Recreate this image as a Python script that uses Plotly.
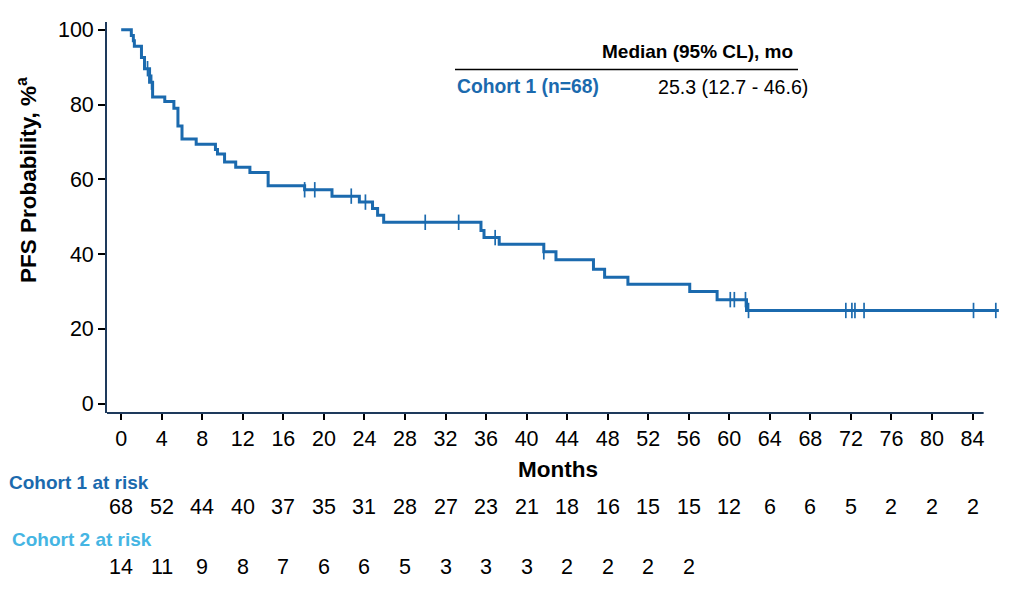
import plotly.graph_objects as go

# ---- data ----
step_months = [0, 1.0, 1.2, 1.3, 2.0, 2.3, 2.8, 3.1, 4.3, 5.2, 5.6, 6.0, 7.4, 9.3, 9.5,
               10.2, 11.3, 12.7, 14.5, 18.1, 20.8, 23.5, 24.8, 25.3, 25.9, 35.5, 35.8,
               37.3, 41.7, 42.9, 46.6, 47.7, 50.0, 56.1, 58.8, 61.7]
step_surv = [100, 98.5, 97.1, 95.6, 92.6, 89.6, 86.0, 82.0, 80.8, 79.0, 74.3, 70.8, 69.4,
             68.0, 66.8, 64.6, 63.2, 61.8, 58.3, 57.2, 55.5, 53.9, 52.2, 50.4, 48.5, 46.3,
             44.4, 42.6, 40.6, 38.5, 35.9, 33.8, 31.9, 30.0, 27.8, 24.9]
last_followup = 86.6

censor_months = [2.6, 3.0, 18.1, 19.1, 22.7, 24.1, 30.0, 33.3, 36.9, 41.7, 60.1, 60.5,
                 61.6, 61.9, 71.5, 72.1, 72.4, 73.3, 84.1, 86.3]

tick_months = list(range(0, 85, 4))
risk_cohort1 = [68, 52, 44, 40, 37, 35, 31, 28, 27, 23, 21, 18, 16, 15, 15, 12, 6, 6, 5, 2, 2, 2]
risk_cohort2 = [14, 11, 9, 8, 7, 6, 6, 5, 3, 3, 3, 2, 2, 2, 2]

median_header = "Median (95% CL), mo"
cohort1_label = "Cohort 1 (n=68)"
cohort1_median = "25.3 (12.7 - 46.6)"

# ---- styling ----
BLUE = "#1b6aae"
LIGHT = "#45b5e3"
NAVY = "#1e3a5c"
FONT = "Liberation Sans, Arial, sans-serif"

W, H = 1024, 590
L, R, T, B = 107, 1010, 22, 413  # plot area in pixels
XR = [-1.4, 87.7]
YR = [-2.54, 102.1]


def surv_at(t):
    s = step_surv[0]
    for m, v in zip(step_months, step_surv):
        if m <= t:
            s = v
    return s


def px(x):
    return (x - L) / (R - L)


def py(y):
    return (B - y) / (B - T)


fig = go.Figure()
fig.add_trace(go.Scatter(
    x=step_months + [last_followup], y=step_surv + [step_surv[-1]],
    mode="lines", line=dict(color=BLUE, width=3, shape="hv"),
    hoverinfo="skip", showlegend=False))
fig.add_trace(go.Scatter(
    x=censor_months, y=[surv_at(t) for t in censor_months],
    mode="markers",
    marker=dict(symbol="line-ns", size=11, line=dict(color=BLUE, width=1.7)),
    hoverinfo="skip", showlegend=False))

fig.update_layout(
    width=W, height=H,
    margin=dict(l=L, r=W - R, t=T, b=H - B),
    paper_bgcolor="white", plot_bgcolor="white",
    font=dict(family=FONT, color="black"),
    xaxis=dict(range=XR, showgrid=False, zeroline=False, showline=False,
               tickmode="array", tickvals=tick_months,
               ticks="outside", ticklen=6, tickwidth=1.5, tickcolor="black",
               tickfont=dict(size=21.5, family=FONT, color="black")),
    yaxis=dict(range=YR, showgrid=False, zeroline=False, showline=True,
               linecolor=NAVY, linewidth=1.8,
               tickmode="array", tickvals=[0, 20, 40, 60, 80, 100],
               ticks="outside", ticklen=7, tickwidth=1.5, tickcolor="black",
               tickfont=dict(size=21.5, family=FONT, color="black")),
)

# x axis line stopping at ~85 months
fig.add_shape(type="line", xref="x", yref="paper", x0=XR[0], x1=85.1, y0=0, y1=0,
              line=dict(color=NAVY, width=1.8))


def txt(text, x, y, size, color="black", xanchor="center", xref="paper", angle=0):
    return dict(text=text, xref=xref, yref="paper",
                x=x if xref == "x" else px(x), y=py(y),
                xanchor=xanchor, yanchor="middle", showarrow=False, textangle=angle,
                font=dict(size=size, family=FONT, color=color))


ann = []
# axis titles
ann.append(txt("<b>Months</b>", 558, 469, 22.5))
ann.append(txt("<b>PFS Probability, %<sup>a</sup></b>", 27, 180, 22.5, angle=-90))

# median legend
ann.append(txt("<b>" + median_header + "</b>", 795, 51, 19, xanchor="right"))
ann.append(txt("<b>" + cohort1_label + "</b>", 455, 87, 19.3, color=BLUE, xanchor="left"))
ann.append(txt(cohort1_median, 810, 87, 19.6, xanchor="right"))
fig.add_shape(type="line", xref="paper", yref="paper", x0=px(455), x1=px(798),
              y0=py(69.5), y1=py(69.5), line=dict(color="black", width=1.6))

# risk table
ann.append(txt("<b>Cohort 1 at risk</b>", 7, 482, 19, color=BLUE, xanchor="left"))
ann.append(txt("<b>Cohort 2 at risk</b>", 10, 539, 19, color=LIGHT, xanchor="left"))
for m, n in zip(tick_months, risk_cohort1):
    ann.append(txt(str(n), m, 507, 21.5, xref="x"))
for m, n in zip(tick_months, risk_cohort2):
    ann.append(txt(str(n), m, 567, 21.5, xref="x"))

fig.update_layout(annotations=ann)
fig.write_html("out.html", config={"displayModeBar": False},
               post_script="document.body.style.margin='0';")
